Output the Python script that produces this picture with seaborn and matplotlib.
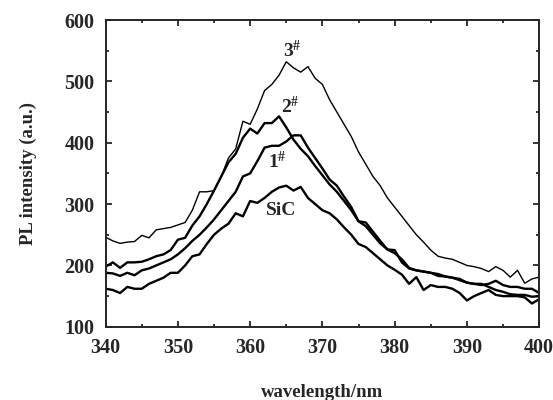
import numpy as np
import pandas as pd
import matplotlib
matplotlib.use("Agg")
import matplotlib.pyplot as plt
import seaborn as sns
from matplotlib.ticker import MultipleLocator

wavelength = list(range(340, 401))

s3 = [246, 240, 236, 238, 239, 249, 245, 258, 260, 262,
      266, 270, 290, 320, 320, 322, 345, 375, 390, 435,
      430, 455, 485, 495, 510, 532, 522, 515, 524, 505,
      495, 470, 450, 430, 410, 385, 365, 345, 330, 310,
      295, 280, 265, 250, 238, 225, 215, 212, 210, 205,
      200, 198, 195, 190, 198, 192, 181, 192, 171, 178, 181]

s2 = [198, 205, 196, 205, 205, 206, 210, 215, 218, 225,
      242, 245, 265, 280, 300, 322, 345, 368, 382, 408,
      423, 415, 432, 432, 443, 425, 405, 390, 378, 362,
      347, 332, 320, 305, 290, 272, 264, 250, 236, 226,
      220, 210, 196, 192, 190, 188, 183, 182, 180, 176,
      172, 170, 170, 165, 160, 157, 153, 152, 152, 149, 150]

s1 = [188, 187, 183, 188, 184, 192, 195, 200, 205, 210,
      218, 228, 240, 250, 262, 275, 290, 305, 320, 345,
      350, 370, 392, 395, 395, 402, 412, 412, 392, 375,
      358, 340, 330, 312, 295, 272, 270, 255, 240, 226,
      225, 205, 195, 192, 190, 188, 186, 182, 180, 178,
      172, 170, 168, 170, 175, 168, 165, 165, 162, 162, 155]

sic = [162, 160, 155, 165, 162, 162, 170, 175, 180, 188,
       188, 200, 215, 218, 235, 250, 260, 268, 285, 280,
       305, 302, 310, 320, 327, 330, 322, 328, 310, 300,
       290, 285, 275, 262, 250, 235, 230, 220, 210, 200,
       193, 185, 170, 181, 160, 168, 165, 165, 162, 155,
       143, 150, 155, 160, 152, 150, 150, 150, 148, 138, 145]

labels = ["3#", "2#", "1#", "SiC"]
label_x = [365.8, 365.5, 363.8, 364.3]
label_y = [551, 459, 369, 290]
label_txt = [r"$\mathbf{3^{\#}}$", r"$\mathbf{2^{\#}}$", r"$\mathbf{1^{\#}}$", "SiC"]

sns.set_style("ticks")
plt.rcParams['font.family'] = ['Liberation Serif', 'DejaVu Serif']
plt.rcParams['font.weight'] = 'bold'
plt.rcParams['mathtext.fontset'] = 'custom'
plt.rcParams['mathtext.rm'] = 'Liberation Serif'
plt.rcParams['mathtext.bf'] = 'Liberation Serif:bold'

fig = plt.figure(figsize=(5.53, 4.0), dpi=100)
ax = fig.add_axes([0.191, 0.183, 0.784, 0.767])

series = {"3#": s3, "2#": s2, "1#": s1, "SiC": sic}
widths = {"3#": 1.0, "2#": 1.7, "1#": 1.7, "SiC": 1.7}
for name in labels:
    df = pd.DataFrame({"wavelength": wavelength, "intensity": series[name]})
    sns.lineplot(data=df, x="wavelength", y="intensity", ax=ax, color="black",
                 linewidth=widths[name], legend=False)

for t, x, y in zip(label_txt, label_x, label_y):
    ax.text(x, y, t, fontsize=14, fontweight='bold', ha='center', va='center')

ax.set_xlim(340, 400)
ax.set_ylim(100, 600)
ax.xaxis.set_major_locator(MultipleLocator(10))
ax.xaxis.set_minor_locator(MultipleLocator(5))
ax.yaxis.set_major_locator(MultipleLocator(100))
ax.yaxis.set_minor_locator(MultipleLocator(50))
ax.tick_params(which='both', direction='in', top=True, right=True, width=1.3)
ax.tick_params(which='major', length=4, labelsize=14.5, pad=8)
ax.tick_params(which='minor', length=2)
for lab in ax.get_xticklabels() + ax.get_yticklabels():
    lab.set_fontweight('bold')
for sp in ax.spines.values():
    sp.set_linewidth(1.4)

ax.set_xlabel("wavelength/nm", fontsize=13.5, fontweight='bold', labelpad=19)
ax.set_ylabel("PL intensity (a.u.)", fontsize=13.5, fontweight='bold', labelpad=20)

fig.savefig("out.png", dpi=100)
